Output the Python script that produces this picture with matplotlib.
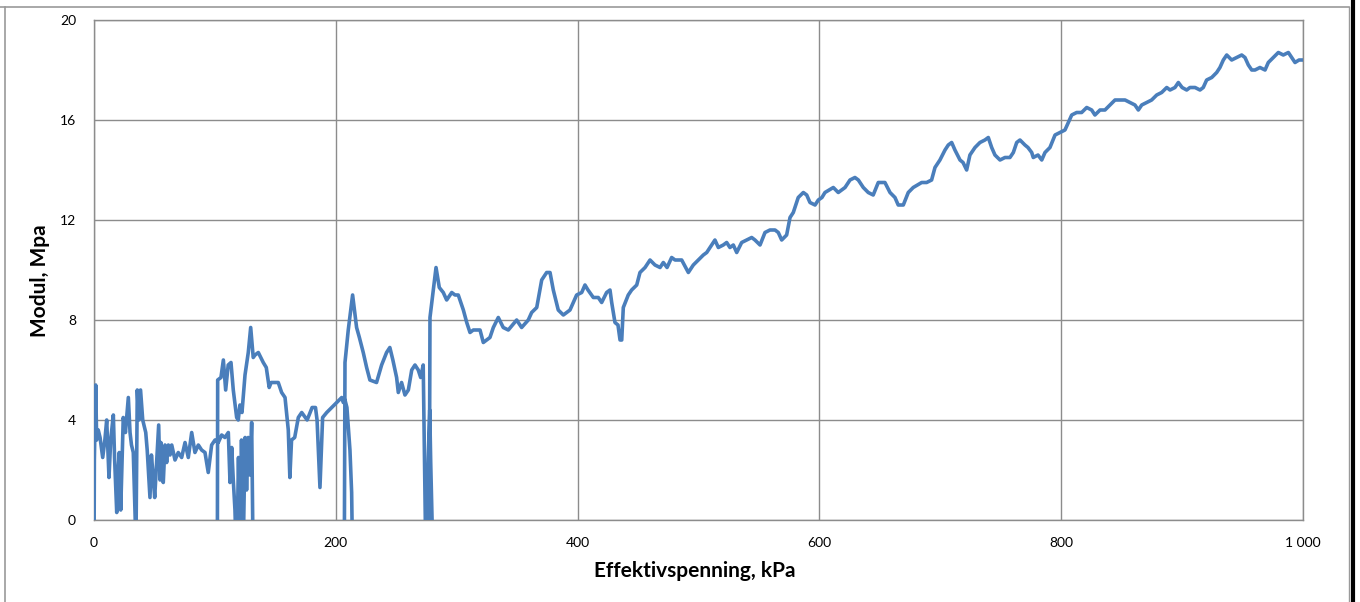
import numpy as np
import matplotlib
matplotlib.use("Agg")
from matplotlib import pyplot as plt
from matplotlib.lines import Line2D
from matplotlib.ticker import FuncFormatter

plt.rcParams['font.family'] = ['Lato', 'DejaVu Sans']

# effective stress (kPa) and modulus (MPa), in logging order;
# negative moduli fall below the axis and are clipped away
spenning = [
    0.0, 0.3, 1.4, 2.2, 3.5, 5.0, 7.2, 9.0, 10.5, 12.4, 13.8, 16.0, 17.0,
    18.8, 20.0, 20.9, 22.1, 23.0, 24.2, 26.0, 28.4, 29.8, 31.0, 32.5, 34.7,
    35.8, 37.0, 38.5, 40.3, 42.8, 44.0, 46.3, 47.5, 48.5, 50.2, 52.0, 53.5,
    54.6, 55.3, 56.0, 57.3, 58.7, 60.1, 61.5, 62.9, 64.3, 67.0, 69.7, 72.5,
    75.3, 78.0, 80.8, 83.5, 86.3, 89.0, 91.8, 94.5, 97.3, 100.1, 102.8,
    105.6, 108.3, 111.1, 112.5, 113.9, 115.2, 116.6, 118.0, 119.5, 120.7,
    122.0, 123.5, 125.0, 126.2, 127.6, 129.0, 130.4, 131.7,
    # reload branch
    102.0, 102.3, 105.0, 107.0, 108.9, 111.0, 113.3, 115.2, 118.0, 119.3,
    120.7, 122.4, 124.9, 127.6, 129.6, 131.7, 133.2, 135.9, 140.0, 142.5,
    144.9, 146.5, 152.4, 155.2, 158.0, 160.7, 162.0, 163.4, 166.0, 169.0,
    171.8, 176.3, 180.4, 183.2, 184.5, 186.9, 189.1, 192.5, 196.6, 200.8,
    204.9, 206.2, 207.6, 209.2, 211.7, 213.1, 214.0,
    207.0, 207.6, 210.3, 213.9, 217.2, 219.5, 222.7, 225.5, 228.2, 233.7,
    237.9, 242.0, 244.7, 247.2, 250.3, 251.7, 254.4, 257.2, 260.0, 262.8,
    265.5, 268.2, 270.2, 272.3, 274.6, 276.5, 277.7, 278.5, 280.6,
    277.2, 277.9, 280.6, 282.9, 285.6, 288.9, 291.7, 295.9, 298.6, 301.3,
    305.5, 308.3, 311.0, 313.7, 319.3, 322.0, 327.5, 330.3, 334.4, 338.5,
    342.7, 349.6, 353.7, 359.2, 362.0, 366.2, 370.3, 374.4, 377.2, 379.9,
    384.0, 388.2, 393.7, 396.4, 399.2, 403.4, 406.1, 408.6, 413.0, 417.1,
    419.9, 424.0, 426.8, 428.2, 430.9, 433.4, 435.1, 436.5, 437.8, 441.9,
    444.7, 448.9, 451.6, 455.8, 459.9, 464.0, 468.2, 470.9, 474.0, 477.8,
    480.6, 486.1, 491.6, 495.7, 499.8, 504.0, 506.8, 509.5, 513.6, 516.4,
    520.5, 523.3, 526.0, 528.8, 531.6, 535.7, 539.9, 544.0, 546.7, 550.9,
    555.0, 559.1, 563.3, 566.0, 568.8, 572.9, 575.7, 578.4, 582.5, 586.7,
    589.5, 592.2, 596.4, 599.1, 602.1, 604.6, 611.5, 615.6, 621.2, 625.3,
    629.4, 632.2, 636.3, 640.4, 644.5, 648.7, 654.2, 658.4, 662.5, 665.2,
    669.4, 673.5, 677.6, 684.6, 688.7, 692.8, 695.6, 699.7, 703.9, 706.6,
    709.4, 712.1, 716.3, 718.8, 721.8, 724.5, 728.7, 732.8, 736.9, 739.7,
    742.5, 745.2, 749.4, 753.5, 757.6, 760.4, 763.2, 765.9, 770.0, 772.5,
    775.6, 776.9, 780.8, 783.9, 786.6, 790.7, 794.9, 799.0, 803.1, 805.9,
    808.7, 812.8, 816.9, 821.1, 825.2, 827.9, 832.1, 836.2, 840.3, 844.5,
    848.6, 852.8, 856.9, 861.0, 863.8, 866.6, 870.7, 874.8, 879.0, 883.1,
    887.3, 890.0, 894.1, 896.9, 900.0, 903.8, 906.5, 910.7, 914.8, 917.5,
    920.3, 924.5, 928.6, 931.3, 934.1, 936.9, 941.0, 945.2, 949.3, 952.0,
    954.8, 957.6, 960.3, 964.4, 968.6, 971.3, 975.5, 979.6, 983.7, 987.9,
    990.7, 993.4, 996.7, 1000.0,
]

modul = [
    -2.0, 2.4, 5.4, 3.2, 3.6, 3.3, 2.5, 3.2, 4.0, 1.7, 3.2, 4.2, 2.5,
    0.3, 2.0, 2.7, 0.4, 2.0, 4.1, 3.5, 4.9, 3.5, 3.0, 2.7, -1.0,
    5.2, 4.0, 5.2, 4.0, 3.5, 2.8, 0.9, 2.6, 2.0, 0.9, 2.5, 3.8,
    1.6, 3.1, 1.7, 1.5, 3.0, 2.3, 3.0, 2.6, 3.0, 2.4, 2.7, 2.5,
    3.1, 2.5, 3.5, 2.7, 3.0, 2.8, 2.7, 1.9, 3.0, 3.2, 3.1,
    3.4, 3.3, 3.5, 1.5, 2.9, 1.6, 0.4, -2.0, 2.5, -1.0,
    3.2, -1.0, 3.3, 1.2, 3.3, 1.8, 3.9, -2.0,
    -2.0, 5.6, 5.7, 6.4, 5.2, 6.2, 6.3, 5.2, 4.1, 4.0,
    4.6, 4.3, 5.8, 6.7, 7.7, 6.5, 6.6, 6.7, 6.3, 6.1,
    5.3, 5.5, 5.5, 5.1, 4.9, 3.6, 1.7, 3.2, 3.3, 4.1,
    4.3, 4.0, 4.5, 4.5, 4.0, 1.3, 4.1, 4.3, 4.5, 4.7,
    4.9, 4.7, 4.8, 4.5, 2.8, 1.1, -2.0,
    -2.0, 6.3, 7.6, 9.0, 7.7, 7.3, 6.7, 6.1, 5.6, 5.5,
    6.2, 6.7, 6.9, 6.4, 5.7, 5.1, 5.5, 5.0, 5.2, 6.0,
    6.2, 6.0, 5.7, 6.2, -2.0, 2.5, 4.4, 2.3, -2.0,
    -2.0, 8.1, 9.2, 10.1, 9.3, 9.1, 8.8, 9.1, 9.0, 9.0,
    8.4, 7.9, 7.5, 7.6, 7.6, 7.1, 7.3, 7.7, 8.1, 7.7,
    7.6, 8.0, 7.7, 8.0, 8.3, 8.5, 9.6, 9.9, 9.9, 9.2,
    8.4, 8.2, 8.4, 8.7, 9.0, 9.1, 9.4, 9.2, 8.9, 8.9,
    8.7, 9.1, 9.2, 8.7, 7.9, 7.8, 7.2, 7.2, 8.5, 9.0,
    9.2, 9.4, 9.9, 10.1, 10.4, 10.2, 10.1, 10.3, 10.1, 10.5,
    10.4, 10.4, 9.9, 10.2, 10.4, 10.6, 10.7, 10.9, 11.2, 10.9,
    11.0, 11.1, 10.9, 11.0, 10.7, 11.1, 11.2, 11.3, 11.2, 11.0,
    11.5, 11.6, 11.6, 11.5, 11.2, 11.4, 12.1, 12.3, 12.9, 13.1,
    13.0, 12.7, 12.6, 12.8, 12.9, 13.1, 13.3, 13.1, 13.3, 13.6,
    13.7, 13.6, 13.3, 13.1, 13.0, 13.5, 13.5, 13.1, 12.9, 12.6,
    12.6, 13.1, 13.3, 13.5, 13.5, 13.6, 14.1, 14.4, 14.8, 15.0,
    15.1, 14.8, 14.4, 14.3, 14.0, 14.6, 14.9, 15.1, 15.2, 15.3,
    14.9, 14.6, 14.4, 14.5, 14.5, 14.7, 15.1, 15.2, 15.0, 14.9,
    14.7, 14.5, 14.6, 14.4, 14.7, 14.9, 15.4, 15.5, 15.6, 15.9,
    16.2, 16.3, 16.3, 16.5, 16.4, 16.2, 16.4, 16.4, 16.6, 16.8,
    16.8, 16.8, 16.7, 16.6, 16.4, 16.6, 16.7, 16.8, 17.0, 17.1,
    17.3, 17.2, 17.3, 17.5, 17.3, 17.2, 17.3, 17.3, 17.2, 17.3,
    17.6, 17.7, 17.9, 18.1, 18.4, 18.6, 18.4, 18.5, 18.6, 18.5,
    18.2, 18.0, 18.0, 18.1, 18.0, 18.3, 18.5, 18.7, 18.6, 18.7,
    18.5, 18.3, 18.4, 18.4,
]

x_ticks = [0, 200, 400, 600, 800, 1000]
y_ticks = [0, 4, 8, 12, 16, 20]

fig = plt.figure(figsize=(13.6, 6.02), dpi=100)
ax = fig.add_axes([94/1360, 82/602, 1209/1360, 500/602])

grid_col = '#8c8c8c'
ax.plot(spenning, modul, color='#4a7ebb', lw=2.6, solid_joinstyle='round', zorder=3)

ax.set_xlim(0, 1000)
ax.set_ylim(0, 20)
ax.set_xticks(x_ticks)
ax.set_yticks(y_ticks)
ax.xaxis.set_major_formatter(FuncFormatter(lambda v, p: f"{int(v):,}".replace(',', ' ')))
ax.grid(True, color=grid_col, lw=1.0)
ax.set_axisbelow(True)
for s in ax.spines.values():
    s.set_color(grid_col)
    s.set_linewidth(1.0)
ax.tick_params(length=0, labelsize=10, colors='black')
ax.tick_params(axis='x', pad=12)
ax.tick_params(axis='y', pad=13)

ax.set_xlabel('Effektivspenning, kPa', fontsize=15, fontweight='bold')
ax.set_ylabel('Modul, Mpa', fontsize=15, fontweight='bold')
ax.xaxis.set_label_coords(0.497, -0.082)
ax.yaxis.set_label_coords(-0.036, 0.478)

# chart frame
fig.add_artist(Line2D([0, 1348.5/1360], [1 - 6.5/602]*2, color='#9a9a9a', lw=1.2))
fig.add_artist(Line2D([4.5/1360]*2, [0, 1 - 6.5/602], color='#9a9a9a', lw=1.2))
fig.add_artist(Line2D([1348.5/1360]*2, [0, 1 - 6.5/602], color='#9a9a9a', lw=1.0))
fig.add_artist(Line2D([1352.5/1360]*2, [0, 1], color='black', lw=3.0))

fig.savefig('out.png', dpi=100)
